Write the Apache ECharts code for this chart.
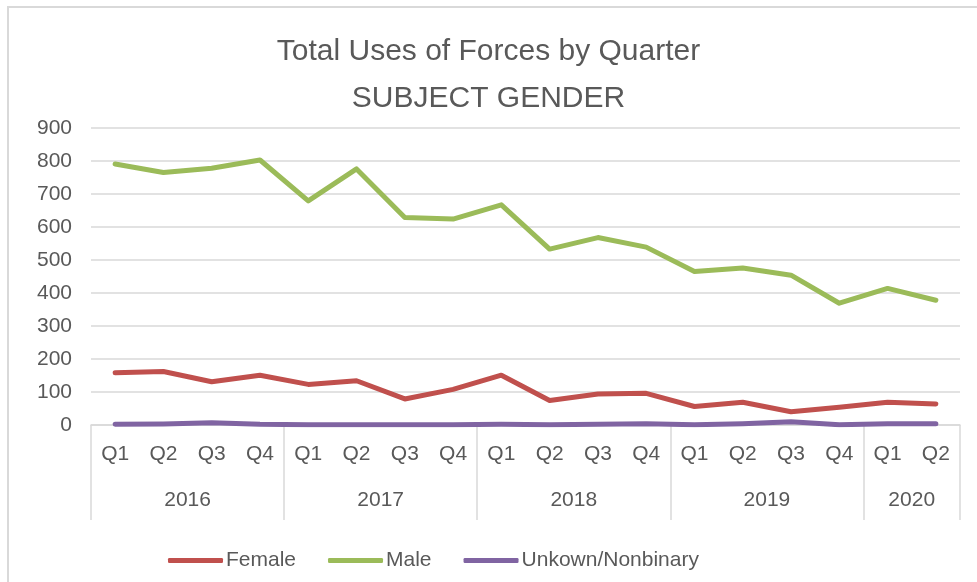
<!DOCTYPE html>
<html>
<head>
<meta charset="utf-8">
<script src="https://cdn.jsdelivr.net/npm/echarts@6/dist/echarts.min.js"></script>
<style>
  html, body { margin: 0; padding: 0; background: #fff; }
  #chart { width: 977px; height: 582px; }
</style>
</head>
<body>
<div id="chart"></div>
<script>
// quarters (x axis, first level) and years (second level)
const quarters = ['Q1','Q2','Q3','Q4','Q1','Q2','Q3','Q4','Q1','Q2','Q3','Q4','Q1','Q2','Q3','Q4','Q1','Q2']
const years = ['2016','2017','2018','2019','2020']
const yearStart = [0, 4, 8, 12, 16, 18]   // quarter index where each year begins (+ end)
const yearMid = [2, 6, 10, 14, 17]

const female = [158, 162, 131, 151, 123, 134, 79, 108, 151, 74, 94, 96, 56, 69, 40, 54, 69, 64]
const male = [791, 765, 778, 803, 679, 776, 629, 624, 667, 533, 568, 539, 465, 476, 454, 369, 414, 378]
const unknown = [2, 3, 7, 2, 1, 1, 1, 1, 2, 1, 2, 4, 1, 4, 10, 1, 4, 4]

const font = '"Liberation Sans", Arial, sans-serif'
const textColor = '#595959'
const lineGray = '#d9d9d9'

const yearLabel = {}
yearMid.forEach((m, i) => { yearLabel[m] = years[i] })

let option = {
  animation: false,
  textStyle: { fontFamily: font },
  title: {
    text: 'Total Uses of Forces by Quarter\nSUBJECT GENDER',
    left: 'center',
    top: 28,
    padding: 0,
    textStyle: {
      fontFamily: font,
      fontSize: 30,
      fontWeight: 'normal',
      color: textColor,
      lineHeight: 47
    }
  },
  legend: {
    data: ['Female', 'Male', 'Unkown/Nonbinary'],
    left: 163,
    top: 545,
    icon: 'roundRect',
    itemWidth: 55,
    itemHeight: 5,
    itemGap: 32,
    textStyle: { fontFamily: font, fontSize: 21, color: textColor, padding: [0, 0, 0, -2] }
  },
  grid: {
    left: 91,
    right: 17,
    top: 128,
    bottom: 157
  },
  xAxis: [
    {
      type: 'category',
      data: quarters,
      boundaryGap: true,
      axisLine: { lineStyle: { color: lineGray, width: 1.5 } },
      axisTick: { show: false },
      axisLabel: { interval: 0, fontSize: 21, color: textColor, margin: 19, fontFamily: font }
    },
    {
      type: 'value',
      position: 'bottom',
      min: 0,
      max: 18,
      axisLine: { show: false },
      splitLine: { show: false },
      axisTick: {
        show: true,
        customValues: yearStart,
        length: 95,
        lineStyle: { color: lineGray, width: 1.5 }
      },
      axisLabel: {
        customValues: yearMid,
        fontSize: 21,
        color: textColor,
        margin: 65,
        fontFamily: font,
        formatter: v => yearLabel[v] || ''
      }
    }
  ],
  yAxis: {
    type: 'value',
    min: 0,
    max: 900,
    interval: 100,
    axisLine: { show: false },
    axisTick: { show: false },
    splitLine: { lineStyle: { color: lineGray, width: 1.5 } },
    axisLabel: { fontSize: 21, color: textColor, margin: 19, fontFamily: font }
  },
  graphic: [
    {
      type: 'rect',
      shape: { x: 8, y: 7, width: 1000, height: 600 },
      style: { fill: 'none', stroke: lineGray, lineWidth: 2 },
      silent: true,
      z: -10
    }
  ],
  series: [
    {
      name: 'Female',
      type: 'line',
      data: female,
      symbol: 'none',
      lineStyle: { color: '#c0504d', width: 5, cap: 'round', join: 'round' },
      itemStyle: { color: '#c0504d' }
    },
    {
      name: 'Male',
      type: 'line',
      data: male,
      symbol: 'none',
      lineStyle: { color: '#9bbb59', width: 5, cap: 'round', join: 'round' },
      itemStyle: { color: '#9bbb59' }
    },
    {
      name: 'Unkown/Nonbinary',
      type: 'line',
      data: unknown,
      symbol: 'none',
      lineStyle: { color: '#8064a2', width: 5, cap: 'round', join: 'round' },
      itemStyle: { color: '#8064a2' }
    }
  ]
}

let myChart = echarts.init(document.getElementById('chart'))
myChart.setOption(option)
</script>
</body>
</html>
